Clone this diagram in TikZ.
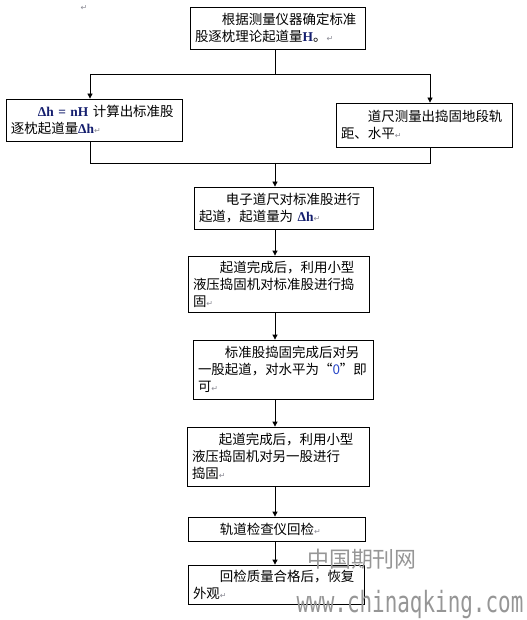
\documentclass[tikz,border=0pt]{standalone}
\usepackage{fontspec}
\setmainfont{Noto Sans CJK SC}
\newfontfamily\tnr{Liberation Serif}
\newfontfamily\dv{DejaVu Sans}
\newfontfamily\wmmono{DejaVu Sans Mono}
\usetikzlibrary{arrows.meta}
\definecolor{navy}{RGB}{20,30,110}
\definecolor{pmark}{RGB}{140,140,150}
\definecolor{wmgray}{RGB}{150,150,150}
\definecolor{zeroblue}{RGB}{40,70,200}
\newcommand{\retmark}{{\dv\fontsize{8}{8}\selectfont\color{pmark}↵}}
\newcommand{\dlh}{{\tnr\bfseries\color{navy}Δh}}
\tikzset{
  box/.style={draw, line width=0.8bp, inner xsep=5bp, inner ysep=0pt, align=left,
              font=\fontsize{13.5}{17}\selectfont},
  conn/.style={line width=0.8bp},
  arr/.style={conn, -{Triangle[length=5bp,width=5bp]}}
}
\begin{document}
\begin{tikzpicture}[x=1bp,y=-1bp]
\useasboundingbox[fill=white] (0,0) rectangle (527,620);

\node[font=\fontsize{8}{8}\selectfont, inner sep=0pt] (pm0) at (84,8) {\retmark};

\node[box, minimum height=42bp, text width=165bp] (b1) at (277.5,28)
  {\hspace*{2em}根据测量仪器确定标准\\股逐枕理论起道量{\tnr\bfseries\color{navy}H}。\retmark};
\node[box, minimum height=42bp, text width=166bp] (b2) at (94,120)
  {\hspace*{2em}{\tnr\bfseries\color{navy}Δh = nH} 计算出标准股\\逐枕起道量\dlh\retmark};
\node[box, minimum height=44bp, text width=166bp] (b3) at (424,125)
  {\hspace*{2em}道尺测量出捣固地段轨\\距、水平\retmark};
\node[box, minimum height=42bp, text width=169bp] (b4) at (283.5,208)
  {\hspace*{2em}电子道尺对标准股进行\\起道，起道量为 \dlh\retmark};
\node[box, minimum height=56bp, text width=171bp] (b5) at (278.5,284)
  {\hspace*{2em}起道完成后，利用小型\\液压捣固机对标准股进行捣\\固\retmark};
\node[box, minimum height=59bp, text width=170bp] (b6) at (283,369.5)
  {\hspace*{2em}标准股捣固完成后对另\\一股起道，对水平为“{\color{zeroblue}0}”即\\可\retmark};
\node[box, minimum height=59bp, text width=172bp] (b7) at (278,456.5)
  {\hspace*{2em}起道完成后，利用小型\\液压捣固机对另一股进行\\捣固\retmark};
\node[box, minimum height=24bp, text width=167bp] (b8) at (276.5,529)
  {\hspace*{2em}轨道检查仪回检\retmark};
\node[box, minimum height=39bp, text width=166bp] (b9) at (276,584.5)
  {\hspace*{2em}回检质量合格后，恢复\\外观\retmark};

\coordinate (jt) at (275,74);
\coordinate (jl) at (90,74);
\coordinate (jr) at (430,74);
\coordinate (kl) at (90,163);
\coordinate (kr) at (430,163);
\coordinate (km) at (275,163);
\coordinate (cx) at (275,0);

\draw[conn] (b1.south -| jt) -- (jt);
\draw[conn] (jl) -- (jr);
\draw[arr] (jl) -- (jl |- b2.north);
\draw[arr] (jr) -- (jr |- b3.north);
\draw[conn] (b2.south -| kl) -- (kl) -- (kr) -- (kr |- b3.south);
\draw[arr] (km) -- (km |- b4.north);
\draw[arr] (b4.south -| cx) -- (b5.north -| cx);
\draw[arr] (b5.south -| cx) -- (b6.north -| cx);
\draw[arr] (b6.south -| cx) -- (b7.north -| cx);
\draw[arr] (b7.south -| cx) -- (b8.north -| cx);
\draw[arr] (b8.south -| cx) -- (b9.north -| cx);

\node[text=wmgray, font=\fontsize{22}{22}\selectfont, inner sep=0pt] (wm1) at (362,559) {中国期刊网};
\node[text=wmgray, font=\wmmono\fontsize{21}{21}\selectfont, inner sep=0pt, yscale=1.4, transform shape] (wm2) at (410,605) {www.chinaqking.com};
\end{tikzpicture}
\end{document}
